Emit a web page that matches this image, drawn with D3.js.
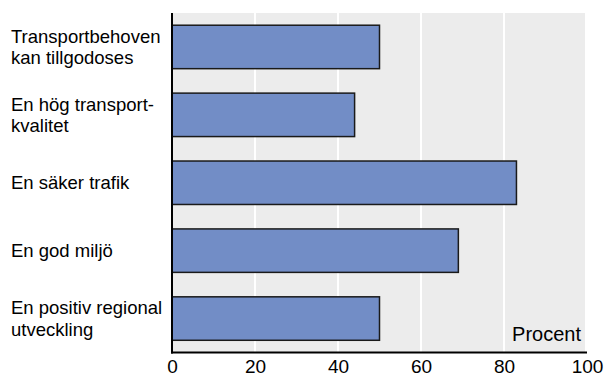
<!DOCTYPE html>
<html>
<head>
<meta charset="utf-8">
<script src="https://cdn.jsdelivr.net/npm/d3@7"></script>
<style>
  html, body { margin: 0; padding: 0; background: #fff; }
  svg { display: block; font-family: "Liberation Sans", Arial, sans-serif; }
</style>
</head>
<body>
<svg id="chart" width="606" height="376"></svg>
<script>
// Categories (line breaks mark where each label wraps)
const categories = [
  "Transportbehoven\nkan tillgodoses",
  "En hög transport-\nkvalitet",
  "En säker trafik",
  "En god miljö",
  "En positiv regional\nutveckling"
];
// Share of respondents, percent
const values = [50, 44, 83, 69, 50];
const xTicks = [0, 20, 40, 60, 80, 100];
const unitLabel = "Procent";

const svg = d3.select("#chart");
const plot = { left: 172, right: 587, top: 13, bottom: 352.5 };

const x = d3.scaleLinear().domain([0, 100]).range([plot.left, plot.right]);
const y = d3.scaleBand()
  .domain(categories)
  .range([plot.top, plot.bottom])
  .paddingInner(0.36)
  .paddingOuter(0.18);

// Plot background
svg.append("rect")
  .attr("x", plot.left).attr("y", plot.top)
  .attr("width", x(100) - plot.left - 2).attr("height", plot.bottom - plot.top)
  .attr("fill", "#ececec");

// Vertical gridlines
svg.append("g")
  .selectAll("line")
  .data(xTicks.filter(d => d > 0 && d < 100))
  .join("line")
  .attr("x1", d => x(d)).attr("x2", d => x(d))
  .attr("y1", plot.top).attr("y2", plot.bottom)
  .attr("stroke", "#ffffff").attr("stroke-width", 2);

// Bars
svg.append("g")
  .selectAll("rect")
  .data(categories)
  .join("rect")
  .attr("x", x(0))
  .attr("y", d => y(d))
  .attr("width", (d, i) => x(values[i]) - x(0))
  .attr("height", y.bandwidth())
  .attr("fill", "#728dc6")
  .attr("stroke", "#1a1a1a")
  .attr("stroke-width", 1.5);

// Axis lines
svg.append("line")
  .attr("x1", plot.left).attr("x2", plot.left)
  .attr("y1", plot.top).attr("y2", plot.bottom + 1)
  .attr("stroke", "#000").attr("stroke-width", 2);
svg.append("line")
  .attr("x1", plot.left - 1).attr("x2", plot.right)
  .attr("y1", plot.bottom).attr("y2", plot.bottom)
  .attr("stroke", "#000").attr("stroke-width", 2);

// X tick labels
const xAxis = d3.axisBottom(x).tickValues(xTicks).tickSize(0).tickPadding(0);
const gx = svg.append("g")
  .attr("transform", `translate(0,${plot.bottom})`)
  .call(xAxis);
gx.select(".domain").remove();
gx.selectAll("text")
  .attr("dy", null)
  .attr("y", 20.5)
  .attr("fill", "#000")
  .style("font-size", "19px")
  .style("font-family", "'Liberation Sans', Arial, sans-serif");

// Unit label
svg.append("text")
  .attr("x", x(100) - 6)
  .attr("y", 341)
  .attr("text-anchor", "end")
  .style("font-size", "20px")
  .attr("fill", "#000")
  .text(unitLabel);

// Category labels, wrapped and centred on each bar
const lineHeight = 21.7;
const labels = svg.append("g")
  .selectAll("text")
  .data(categories)
  .join("text")
  .attr("x", 11)
  .style("font-size", "18.5px")
  .attr("fill", "#000");
labels.each(function(d) {
  const lines = d.split("\n");
  const cy = y(d) + y.bandwidth() / 2;
  const first = cy - (lines.length - 1) * lineHeight / 2 + 6.5;
  d3.select(this).selectAll("tspan")
    .data(lines)
    .join("tspan")
    .attr("x", 11)
    .attr("y", (t, i) => first + i * lineHeight)
    .text(t => t);
});
</script>
</body>
</html>
